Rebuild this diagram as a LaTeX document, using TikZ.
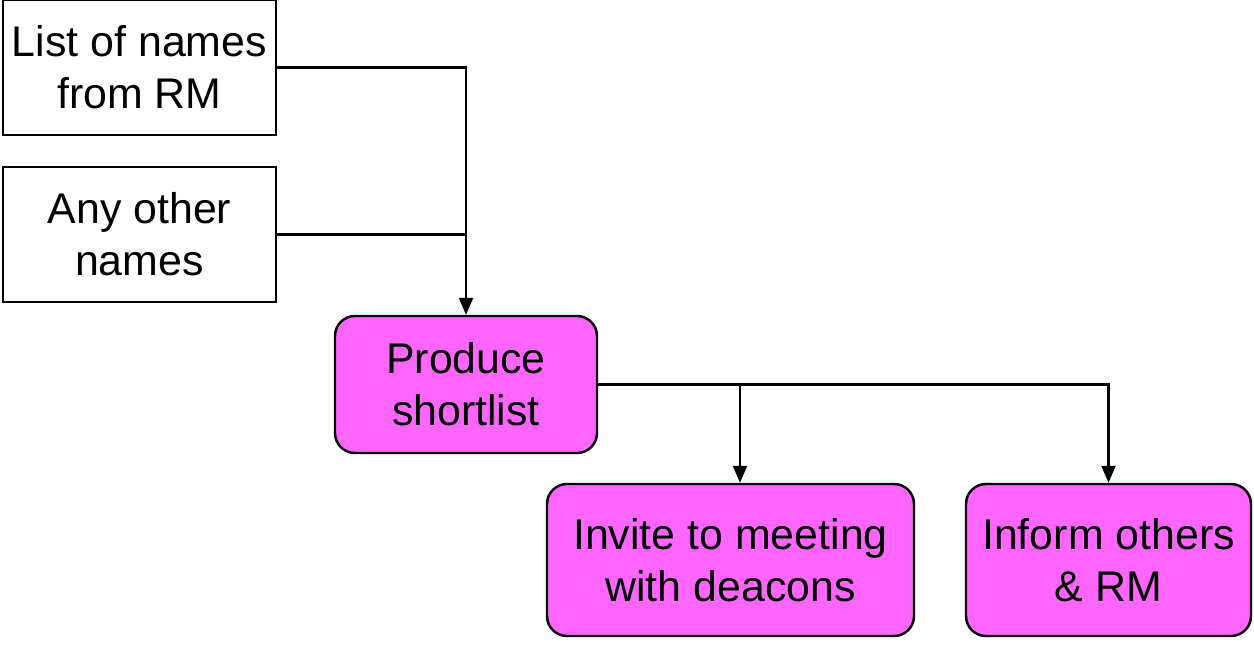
\documentclass[tikz,border=0pt]{standalone}
\usepackage{fontspec}
\setmainfont{Liberation Sans}
\usetikzlibrary{arrows.meta}
\definecolor{pinkbox}{HTML}{FF66FF}

\begin{document}
\begin{tikzpicture}[
		namebox/.style={draw,line width=1.4pt,align=center,inner sep=0pt,
			font=\fontsize{24.4}{29.6}\selectfont},
		taskbox/.style={namebox,fill=pinkbox,rounded corners=0.4cm},
		arr/.style={line width=1.3pt,-{Triangle[length=0.34cm,width=0.28cm]}}
	]
		\useasboundingbox (0,0) rectangle (25.08,-12.92);
		\node[namebox,minimum width=5.46cm,minimum height=2.7cm] (list) at (2.79,-1.35) {List of names\\from RM};
		\node[namebox,minimum width=5.46cm,minimum height=2.7cm] (other) at (2.79,-4.69) {Any other\\names};
		\node[taskbox,minimum width=5.24cm,minimum height=2.74cm] (short) at (9.32,-7.69) {Produce\\shortlist};
		\node[taskbox,minimum width=7.34cm,minimum height=3.04cm] (invite) at (14.61,-11.2) {Invite to meeting\\with deacons};
		\node[taskbox,minimum width=5.7cm,minimum height=3.04cm] (inform) at (22.17,-11.2) {Inform others\\\& RM};
		\draw[arr] (list.east) -| (short.north);
		\draw[line width=1.3pt] (other.east) -- (other.east -| short.north);
		\draw[arr] (short.east) -| ([xshift=0.19cm]invite.north);
		\draw[arr] (short.east) -| (inform.north);
	\end{tikzpicture}
\end{document}
